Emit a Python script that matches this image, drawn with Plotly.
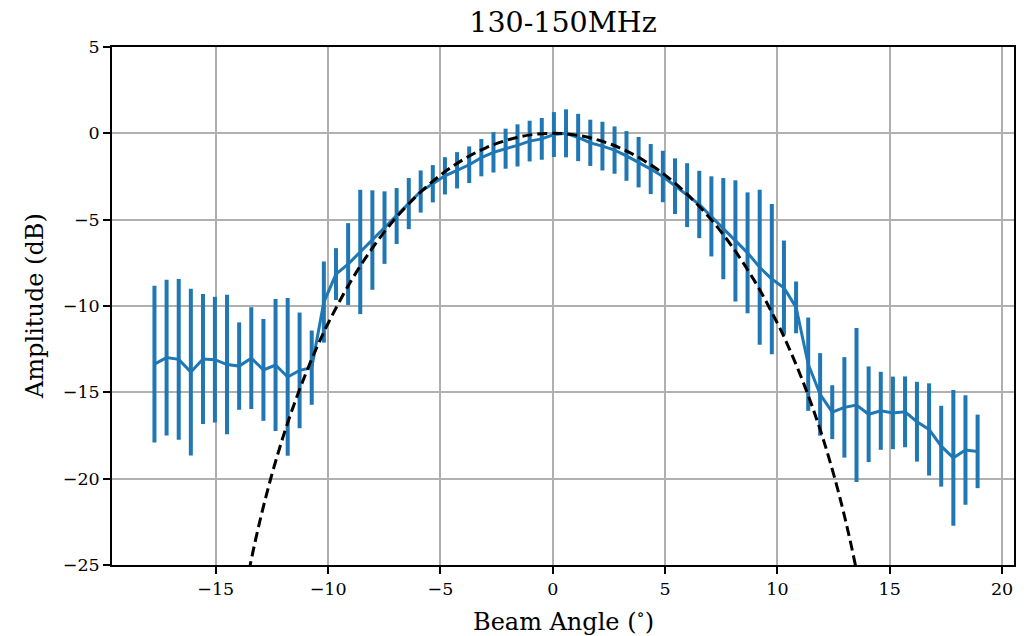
import plotly.graph_objects as go

# Beam angle (deg) of each measurement
angle = [-17.73, -17.19, -16.65, -16.11, -15.57, -15.04, -14.50, -13.96, -13.42, -12.88,
         -12.34, -11.80, -11.27, -10.73, -10.19, -9.65, -9.11, -8.57, -8.03, -7.49,
         -6.95, -6.41, -5.88, -5.34, -4.80, -4.26, -3.72, -3.18, -2.64, -2.10,
         -1.57, -1.03, -0.49, 0.05, 0.59, 1.13, 1.67, 2.21, 2.75, 3.28,
         3.82, 4.36, 4.90, 5.44, 5.98, 6.52, 7.06, 7.59, 8.13, 8.67,
         9.21, 9.75, 10.29, 10.83, 11.37, 11.90, 12.44, 12.98, 13.52, 14.06,
         14.60, 15.14, 15.68, 16.21, 16.75, 17.29, 17.83, 18.37, 18.91]

# Mean amplitude (dB)
amplitude = [-13.37, -12.99, -13.09, -13.83, -13.07, -13.11, -13.39, -13.48, -13.02, -13.70,
             -13.42, -14.11, -13.73, -13.57, -9.77, -8.15, -7.57, -6.87, -6.18, -5.46,
             -4.79, -4.07, -3.37, -2.92, -2.46, -2.14, -1.82, -1.41, -1.10, -0.89,
             -0.70, -0.45, -0.32, -0.07, 0.00, -0.24, -0.55, -0.74, -0.97, -1.31,
             -1.67, -2.07, -2.50, -3.06, -3.58, -4.12, -4.81, -5.52, -6.23, -6.92,
             -7.76, -8.44, -8.94, -10.08, -13.37, -15.12, -16.15, -15.87, -15.74, -16.27,
             -16.07, -16.19, -16.13, -16.70, -17.15, -18.12, -18.79, -18.34, -18.42]

# Error bar half-length (dB)
amp_err = [4.54, 4.51, 4.65, 4.83, 3.77, 3.64, 4.04, 2.53, 2.95, 2.95,
           3.82, 4.57, 3.35, 2.15, 2.35, 1.50, 2.37, 3.60, 2.88, 2.10,
           1.62, 1.48, 1.22, 1.08, 1.08, 1.05, 1.06, 1.08, 1.17, 1.16,
           1.22, 1.18, 1.21, 1.30, 1.39, 1.37, 1.34, 1.41, 1.37, 1.44,
           1.46, 1.45, 1.49, 1.61, 1.85, 1.95, 2.32, 2.93, 3.51, 3.50,
           4.49, 4.35, 2.73, 1.50, 2.70, 2.39, 1.56, 2.91, 4.46, 2.77,
           2.26, 2.10, 2.05, 2.31, 2.67, 2.34, 3.93, 3.17, 2.13]

# Model beam (dashed curve)
model_angle = [-14, -13.5, -13, -12.5, -12, -11.5, -11, -10.5, -10, -9, -8, -7, -6, -5, -4, -3, -2, -1, 0,
               1, 2, 3, 4, 5, 6, 7, 8, 9, 10, 10.5, 11, 11.5, 12, 12.5, 13, 13.5, 14]
model_amp = [-28.78, -25.2, -22.25, -19.74, -17.56, -15.64, -13.93, -12.39, -11.00, -8.59, -6.59, -4.92,
             -3.55, -2.42, -1.53, -0.85, -0.38, -0.09, 0.0,
             -0.09, -0.38, -0.85, -1.53, -2.42, -3.55, -4.92, -6.59, -8.59, -11.00, -12.39, -13.93,
             -15.64, -17.56, -19.74, -22.25, -25.2, -28.78]

x_ticks = [-15, -10, -5, 0, 5, 10, 15, 20]
y_ticks = [-25, -20, -15, -10, -5, 0, 5]

BLUE = "#1f77b4"
FONT = "DejaVu Serif"

fig = go.Figure()
fig.add_trace(go.Scatter(
    x=angle, y=amplitude, mode="lines",
    line=dict(color=BLUE, width=3),
    error_y=dict(type="data", array=amp_err, visible=True, color=BLUE, thickness=4, width=0),
    showlegend=False,
))
fig.add_trace(go.Scatter(
    x=model_angle, y=model_amp, mode="lines",
    line=dict(color="black", width=3, dash="10px,5px", shape="spline"),
    showlegend=False,
))

axis_common = dict(
    showline=True, mirror=True, linecolor="black", linewidth=1.5,
    ticks="outside", ticklen=7, tickwidth=1.5, tickcolor="black",
    showgrid=True, gridcolor="#b0b0b0", gridwidth=1.5,
    zeroline=False, automargin=False,
    tickfont=dict(family=FONT, size=17.5, color="black"),
)

L, R, T, B = 112, 15, 47, 71
W, H = 1029, 636
pw, ph = W - L - R, H - T - B

fig.update_layout(
    width=W, height=H,
    margin=dict(l=L, r=R, t=T, b=B),
    plot_bgcolor="white", paper_bgcolor="white",
    title=dict(text="130-150MHz", x=(L + W - R) / 2 / W, xanchor="center",
               y=1 - 22 / H, yanchor="middle",
               font=dict(family=FONT, size=28.5, color="black")),
    xaxis=dict(range=[-19.62, 20.53], tickvals=x_ticks, **axis_common),
    yaxis=dict(range=[-25, 5], tickvals=y_ticks, **axis_common),
    annotations=[
        dict(text="Beam Angle (<sup>∘</sup>)", xref="paper", yref="paper",
             x=0.5, y=-(620 - (H - B)) / ph, xanchor="center", yanchor="middle",
             showarrow=False, font=dict(family=FONT, size=24, color="black")),
        dict(text="Amplitude (dB)", xref="paper", yref="paper",
             x=-(L - 35) / pw, y=0.5, xanchor="center", yanchor="middle", textangle=-90,
             showarrow=False, font=dict(family=FONT, size=24, color="black")),
    ],
)

fig.write_html("out.html")
